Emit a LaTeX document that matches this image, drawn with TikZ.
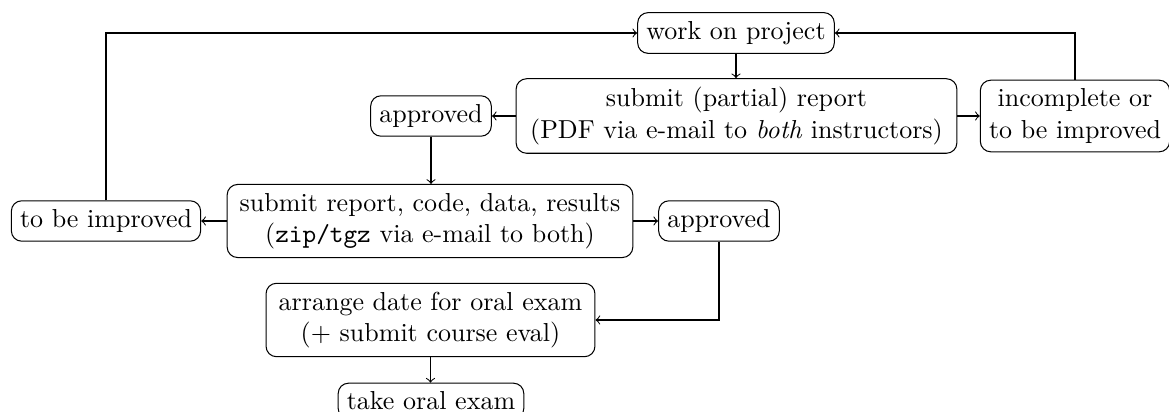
\documentclass[tikz,border=0pt]{standalone}
\begin{document}
\begin{tikzpicture}[x=0.3846pt,y=-0.3846pt,
  box/.style={draw,rounded corners=4pt,align=center,inner sep=0.3333em},
  flow/.style={->}]
\useasboundingbox (0,0) rectangle (1169,412);
\node[box] (wop) at (736,33) {work on project};
\node[box,minimum width=169.5pt] (sub1) at (736.5,116) {submit (partial) report\\(PDF via e-mail to \emph{both} instructors)};
\node[box] (appL) at (431,116) {approved};
\node[box] (inc) at (1075,116) {incomplete or\\to be improved};
\node[box] (tbi) at (106,221) {to be improved};
\node[box,minimum width=156pt] (sub2) at (430,221) {submit report, code, data, results\\(\texttt{zip/tgz} via e-mail to both)};
\node[box] (appR) at (719,221) {approved};
\node[box,minimum width=126.5pt] (arr) at (430.5,320) {arrange date for oral exam\\(+ submit course eval)};
\node[box] (take) at (431,401) {take oral exam};
\draw[flow] (wop.south) -- (wop.south |- sub1.north);
\draw[flow] (sub1.west) -- (appL.east);
\draw[flow] (sub1.east) -- (inc.west);
\draw[flow] (inc.north) |- (wop.east);
\draw[flow] (appL.south) -- (appL.south |- sub2.north);
\draw[flow] (sub2.west) -- (tbi.east);
\draw[flow] (tbi.north) |- (wop.west);
\draw[flow] (sub2.east) -- (appR.west);
\draw[flow] (appR.south) |- (arr.east);
\draw[flow] (arr.south) -- (arr.south |- take.north);
\end{tikzpicture}
\end{document}
